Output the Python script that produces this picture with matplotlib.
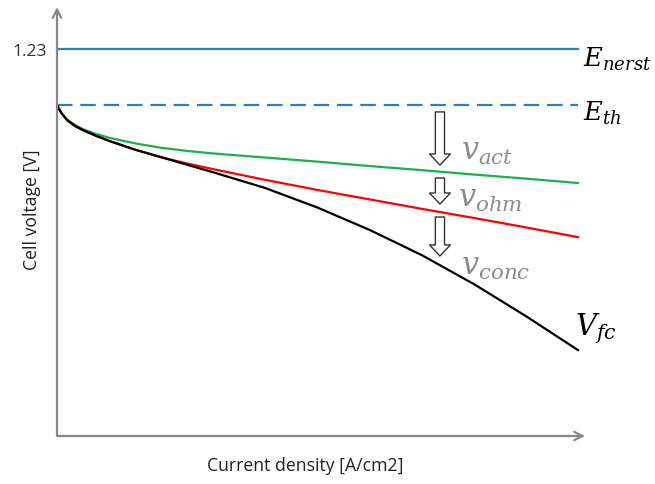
import numpy as np
import matplotlib.pyplot as plt

current = [0, 0.005, 0.01, 0.02, 0.035, 0.05, 0.075, 0.1, 0.15, 0.2, 0.25, 0.3,
           0.4, 0.5, 0.6, 0.7, 0.8, 0.9, 1.0]
v_act_curve = [1.052, 1.036, 1.023, 1.005, 0.988, 0.975, 0.960, 0.948, 0.930, 0.916, 0.906,
               0.898, 0.885, 0.872, 0.858, 0.845, 0.831, 0.818, 0.804]
v_ohm_curve = [1.052, 1.036, 1.023, 1.003, 0.985, 0.972, 0.954, 0.938, 0.910, 0.886, 0.866,
               0.848, 0.814, 0.782, 0.752, 0.722, 0.693, 0.663, 0.632]
v_fc = [1.052, 1.036, 1.023, 1.003, 0.985, 0.972, 0.954, 0.938, 0.910, 0.886, 0.862,
        0.838, 0.788, 0.726, 0.655, 0.575, 0.483, 0.381, 0.273]
E_nerst = 1.23
E_th = 1.052

plt.rcParams['font.family'] = ['Open Sans', 'DejaVu Sans']
plt.rcParams['mathtext.fontset'] = 'dejavuserif'

fig = plt.figure(figsize=(6.55, 4.85), dpi=100)
ax = fig.add_axes([57 / 655, 48 / 485, 528 / 655, 429 / 485])
ax.set_xlim(0, 1.0134)
ax.set_ylim(0, 1.3635)

blue = '#2e7cc6'
ax.plot([0, 1], [E_nerst, E_nerst], color=blue, lw=1.6)
ax.plot([0, 1], [E_th, E_th], color=blue, lw=1.6, dashes=(7, 3.5))
ax.plot(current, v_act_curve, color='#1db04a', lw=1.6)
ax.plot(current, v_ohm_curve, color='#ff0000', lw=1.6)
ax.plot(current, v_fc, color='black', lw=1.6)

# axes as gray arrows
for s in ax.spines.values():
    s.set_visible(False)
ax.set_xticks([])
ax.set_yticks([E_nerst])
ax.set_yticklabels(['1.23'], fontsize=12.5, color='#333333')
ax.tick_params(axis='y', length=0, pad=7)
axis_col = '#888888'
ax.annotate('', xy=(1.0, 0), xytext=(0, 0), xycoords='axes fraction',
            arrowprops=dict(arrowstyle='->,head_length=0.6,head_width=0.3', color=axis_col,
                            lw=1.6, shrinkA=0, shrinkB=0))
ax.annotate('', xy=(0, 1.0), xytext=(0, 0), xycoords='axes fraction',
            arrowprops=dict(arrowstyle='->,head_length=0.6,head_width=0.3', color=axis_col,
                            lw=1.6, shrinkA=0, shrinkB=0))

# hollow loss arrows
for tail, tip in [(1.030, 0.861), (0.820, 0.737), (0.696, 0.572)]:
    ax.annotate('', xy=(0.735, tip), xytext=(0.735, tail),
                arrowprops=dict(arrowstyle='simple,head_length=0.4,head_width=0.75,tail_width=0.33',
                                fc='white', ec='#333333', lw=1.0, mutation_scale=20,
                                shrinkA=0, shrinkB=0))

ax.text(1.01, 1.20, r'$E_{nerst}$', fontsize=18.5, va='center', ha='left', clip_on=False)
ax.text(1.01, 1.03, r'$E_{th}$', fontsize=18.5, va='center', ha='left', clip_on=False)
ax.text(0.775, 0.905, r'$v_{act}$', fontsize=22, color='#8c8c8c', va='center')
ax.text(0.77, 0.755, r'$v_{ohm}$', fontsize=22, color='#8c8c8c', va='center')
ax.text(0.775, 0.540, r'$v_{conc}$', fontsize=22, color='#8c8c8c', va='center')
ax.text(0.995, 0.345, r'$V_{fc}$', fontsize=21, va='center', ha='left')

fig.text(305 / 655, 1 - 466 / 485, 'Current density [A/cm2]', fontsize=12.7,
         ha='center', va='center', color='#222222')
fig.text(32 / 655, 1 - 210 / 485, 'Cell voltage [V]', fontsize=12.7, rotation=90,
         ha='center', va='center', color='#222222')

fig.savefig('out.png', dpi=100)
